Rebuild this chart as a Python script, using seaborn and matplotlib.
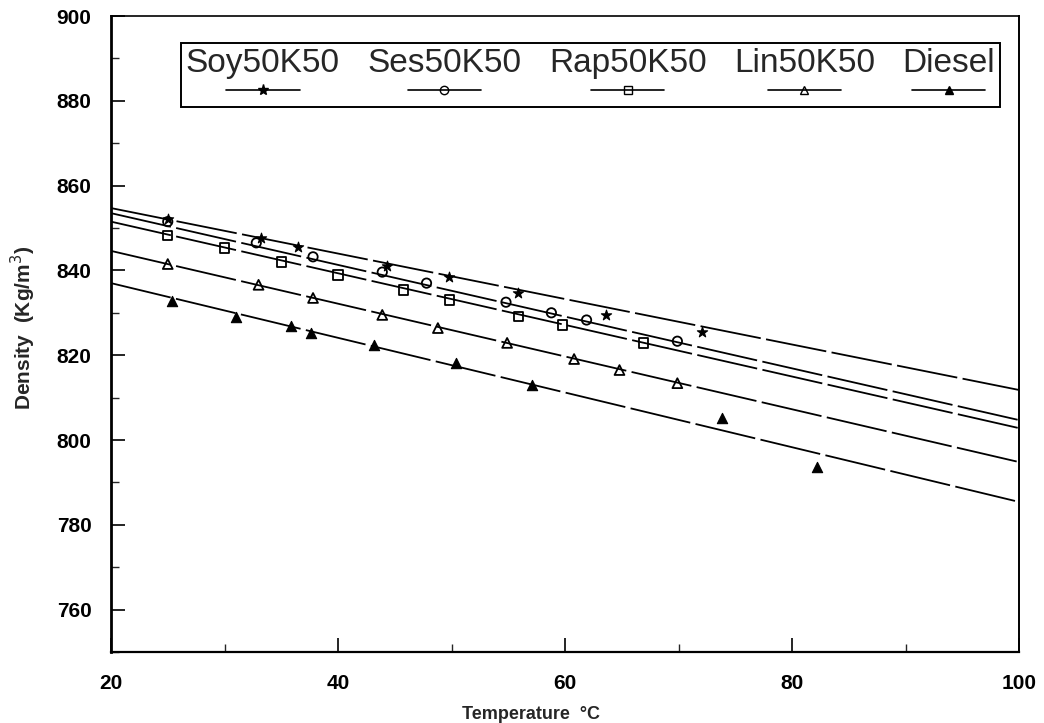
import numpy as np
import pandas as pd
import seaborn as sns
import matplotlib
matplotlib.use("Agg")
import matplotlib.pyplot as plt
from matplotlib.lines import Line2D
from matplotlib.offsetbox import VPacker

# ---------------- data ----------------
series_names = ["Soy50K50", "Ses50K50", "Rap50K50", "Lin50K50", "Diesel"]

soy_t = [25.0, 33.2, 36.5, 44.3, 49.8, 55.9, 63.6, 72.1]
soy_d = [852.2, 847.6, 845.5, 841.0, 838.4, 834.7, 829.5, 825.5]

ses_t = [25.0, 32.8, 37.8, 43.9, 47.8, 54.8, 58.8, 61.9, 69.9]
ses_d = [851.5, 846.5, 843.2, 839.6, 837.0, 832.5, 830.0, 828.3, 823.3]

rap_t = [25.0, 30.0, 35.0, 40.0, 45.8, 49.8, 55.9, 59.8, 66.9]
rap_d = [848.3, 845.3, 842.0, 838.9, 835.4, 833.0, 829.2, 827.1, 822.9]

lin_t = [25.0, 33.0, 37.8, 43.9, 48.8, 54.9, 60.8, 64.8, 69.9]
lin_d = [841.5, 836.6, 833.5, 829.5, 826.4, 822.9, 819.1, 816.5, 813.4]

die_t = [25.4, 31.0, 35.9, 37.6, 43.2, 50.4, 57.1, 73.8, 82.2]
die_d = [832.8, 829.0, 826.9, 825.2, 822.4, 818.2, 813.0, 805.2, 793.6]

# fitted lines: density at T = 20 and T = 100
fit_t = [20, 100]
fit_soy = [854.7, 811.8]
fit_ses = [853.5, 804.7]
fit_rap = [851.5, 802.8]
fit_lin = [844.6, 794.8]
fit_die = [837.0, 785.4]

x_ticks = [20, 40, 60, 80, 100]
y_ticks = [760, 780, 800, 820, 840, 860, 880, 900]

# ---------------- styling ----------------
sns.set_theme(style="ticks")
plt.rcParams["font.family"] = ["Liberation Sans", "DejaVu Sans"]

fig = plt.figure(figsize=(10.44, 7.23), dpi=100)
ax = fig.add_axes([111 / 1044, 1 - 652 / 723, 908 / 1044, 636 / 723])

points = [(soy_t, soy_d), (ses_t, ses_d), (rap_t, rap_d), (lin_t, lin_d), (die_t, die_d)]
fits = [fit_soy, fit_ses, fit_rap, fit_lin, fit_die]
markers = ["*", "o", "s", "^", "^"]
filled = [True, False, False, False, True]
msizes = [60, 45, 45, 50, 55]
dash = (0, (34, 3))

for (t, d), f, m, fl, s in zip(points, fits, markers, filled, msizes):
    sns.lineplot(x=fit_t, y=f, ax=ax, color="black", linewidth=1.3,
                 linestyle=dash, legend=False)
    if fl:
        sns.scatterplot(x=t, y=d, ax=ax, marker=m, s=s, color="black",
                        edgecolor="black", linewidth=0.8, legend=False, zorder=3)
    else:
        sns.scatterplot(x=t, y=d, ax=ax, marker=m, s=s, facecolor="none",
                        edgecolor="black", linewidth=1.3, legend=False, zorder=3)

ax.set_xlim(20, 100)
ax.set_ylim(750, 900)
ax.set_xticks(x_ticks)
ax.set_yticks(y_ticks)
ax.set_xticks([30, 50, 70, 90], minor=True)
ax.set_yticks([750, 770, 790, 810, 830, 850, 870, 890], minor=True)
ax.set_xticklabels([str(v) for v in x_ticks])
ax.set_yticklabels([str(v) for v in y_ticks])
ax.tick_params(axis="both", which="major", direction="in", length=10, width=1.2,
               labelsize=15, colors="black")
ax.tick_params(axis="y", which="major", pad=14)
ax.tick_params(axis="x", which="major", pad=16)
ax.tick_params(axis="both", which="minor", direction="in", length=6, width=1.0)
ax.tick_params(top=False, right=False, which="both")
for lab in ax.get_xticklabels() + ax.get_yticklabels():
    lab.set_fontweight("bold")

for side, lw in [("left", 2.0), ("bottom", 1.6), ("top", 1.2), ("right", 1.4)]:
    ax.spines[side].set_visible(True)
    ax.spines[side].set_linewidth(lw)
    ax.spines[side].set_color("black")

ax.set_xlabel("Temperature  °C", fontsize=13, fontweight="bold")
ax.set_ylabel("Density  (Kg/m$^{3}$)", fontsize=15, fontweight="bold")
ax.xaxis.set_label_coords(0.463, -0.085)
ax.yaxis.set_label_coords(-0.08, 0.51)

# ---------------- legend (text above sample) ----------------
handles = []
for m, fl in zip(markers, filled):
    handles.append(Line2D([0], [0], color="black", linewidth=1.2, marker=m,
                          markersize=6 if m != "*" else 8,
                          markerfacecolor="black" if fl else "none",
                          markeredgecolor="black", markeredgewidth=1.0))
leg = ax.legend(handles=handles, labels=series_names, ncol=5,
                loc="upper left", bbox_to_anchor=(0.077, 0.86, 0.902, 0.098),
                mode="expand", borderaxespad=0, fontsize=24, handlelength=2.2,
                columnspacing=0.3, borderpad=0.15, fancybox=False, frameon=True,
                edgecolor="black", framealpha=1)
leg.get_frame().set_linewidth(1.4)
for col in leg._legend_handle_box.get_children():
    new_items = []
    for item in col.get_children():
        hbox, tbox = item.get_children()
        new_items.append(VPacker(pad=0, sep=0, children=[tbox, hbox], align="center"))
    col._children = new_items

fig.savefig("out.png", dpi=100)
